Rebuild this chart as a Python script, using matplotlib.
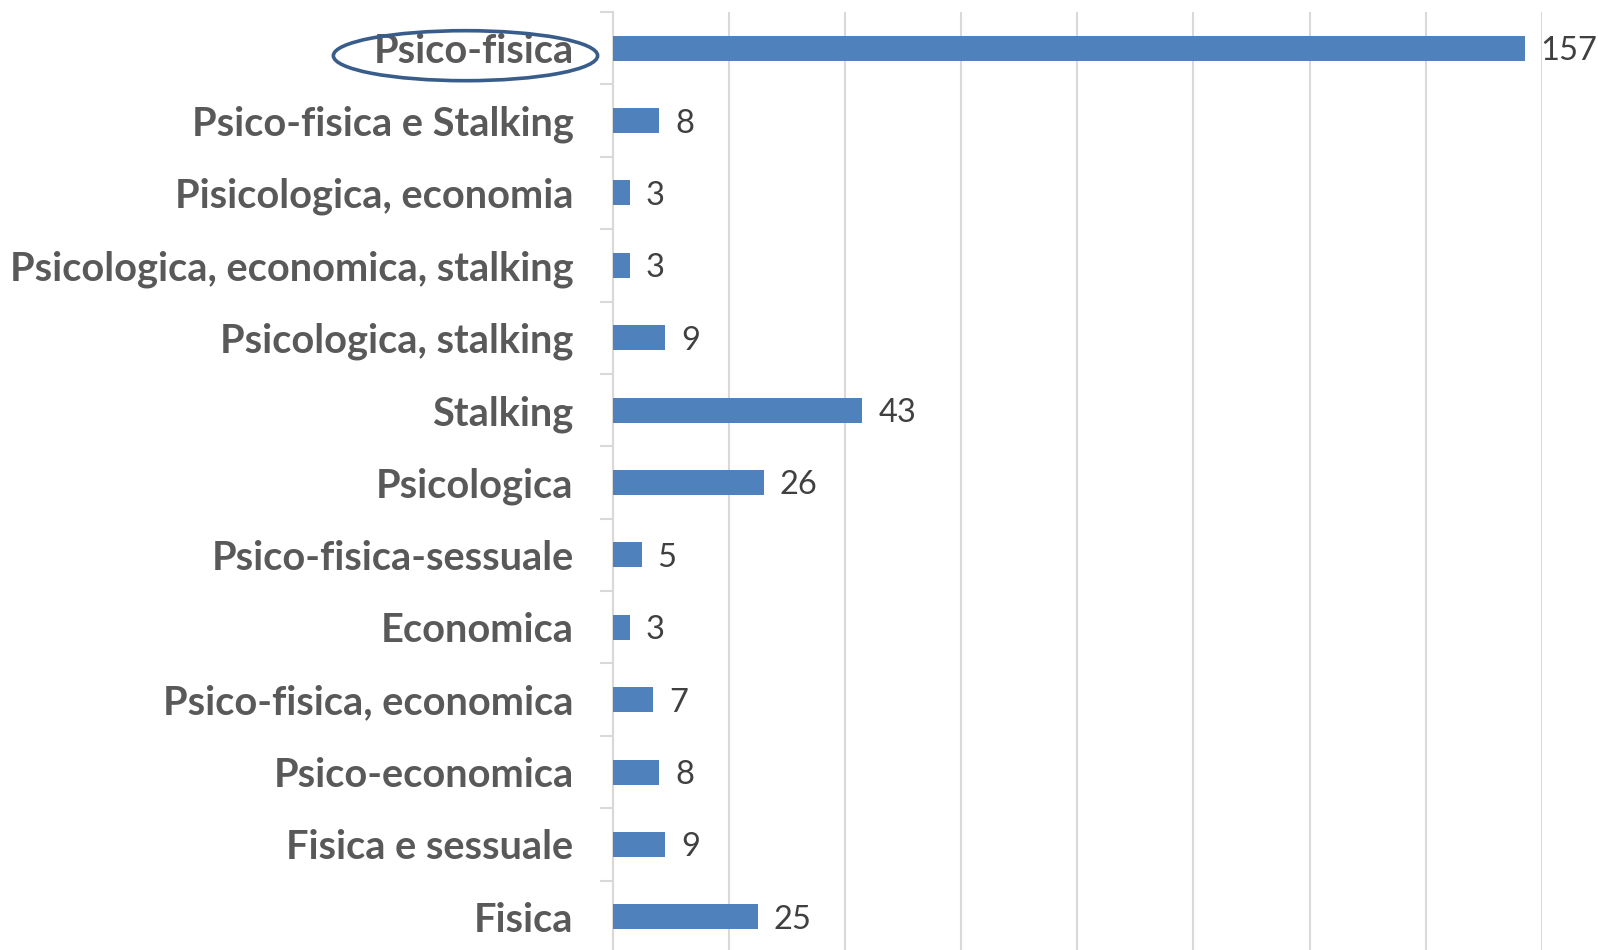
import matplotlib.pyplot as plt
from matplotlib.patches import Ellipse
from matplotlib.ticker import FixedLocator

categories = ['Psico-fisica', 'Psico-fisica e Stalking', 'Pisicologica, economia',
              'Psicologica, economica, stalking', 'Psicologica, stalking', 'Stalking',
              'Psicologica', 'Psico-fisica-sessuale', 'Economica', 'Psico-fisica, economica',
              'Psico-economica', 'Fisica e sessuale', 'Fisica']
values = [157, 8, 3, 3, 9, 43, 26, 5, 3, 7, 8, 9, 25]

W, H = 1598, 950
fig = plt.figure(figsize=(W / 100, H / 100), dpi=100)
ax = fig.add_axes([612.5 / W, -3 / H, (1542 - 612.5) / W, (953 - 12) / H])

pos = list(range(len(categories)))
ax.barh(pos, values, height=0.345, color='#4F81BD', zorder=3)
ax.set_ylim(len(categories) - 0.5, -0.5)
ax.set_xlim(0, 160)

ax.set_xticks(range(0, 161, 20))
ax.tick_params(axis='x', length=0, labelbottom=False)
ax.grid(axis='x', color='#D9D9D9', linewidth=1.5, zorder=0)

ax.set_yticks(pos)
ax.set_yticklabels(categories, fontfamily='Lato', fontweight='bold', fontsize=28.6, color='#595959')
ax.tick_params(axis='y', which='major', length=0, pad=28)
ax.yaxis.set_minor_locator(FixedLocator([i - 0.5 for i in range(len(categories) + 1)]))
ax.tick_params(axis='y', which='minor', length=9.5, width=1.5, color='#D9D9D9')

for s in ['top', 'right', 'bottom']:
    ax.spines[s].set_visible(False)
ax.spines['left'].set_color('#D9D9D9')
ax.spines['left'].set_linewidth(1.5)

for p, v in zip(pos, values):
    ax.annotate(str(v), (v, p), xytext=(11.5, 0), textcoords='offset points',
                va='center_baseline', ha='left', fontsize=23.5, fontfamily='Lato',
                color='#404040', clip_on=False)

# highlight the first category label
fig.canvas.draw()
bb = ax.get_yticklabels()[0].get_window_extent()
x0, x1 = bb.x0 - 40, bb.x1 + 24
cy = (bb.y0 + bb.y1) / 2 - 4
fig.patches.append(Ellipse(((x0 + x1) / 2 / W, cy / H), (x1 - x0) / W, 50 / H,
                           transform=fig.transFigure, fill=False,
                           edgecolor='#385D8A', linewidth=2.6))

fig.savefig('out.png', dpi=100)
